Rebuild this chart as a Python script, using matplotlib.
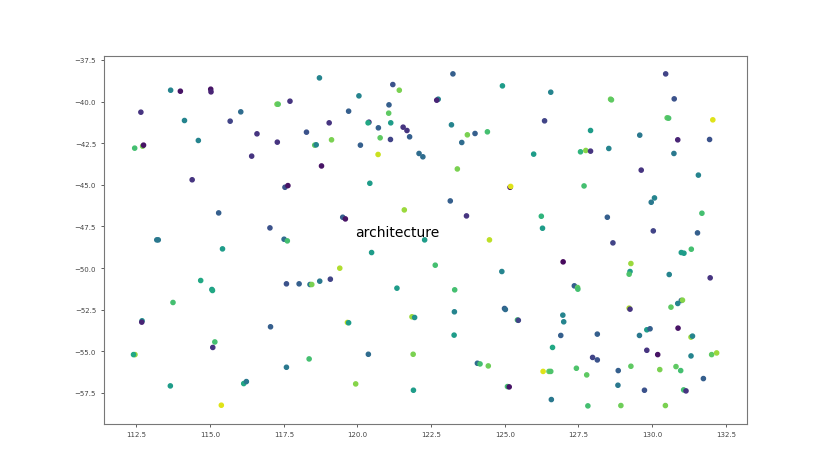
"""Scatter of points coloured with viridis, with a single text label."""
import matplotlib
matplotlib.use("Agg")
import matplotlib.pyplot as plt

# (x, y, colour value 0..1)
xs = [113.66, 113.99, 115.02, 115.03, 112.65, 114.13, 115.68, 116.04, 114.60, 116.59,
      117.28, 112.44, 112.71, 112.74, 116.41, 114.39, 117.27, 117.31, 117.71, 118.27,
      117.54, 117.64, 115.29, 117.03, 117.51, 117.62, 113.19, 113.24,
      115.42, 114.68, 115.06, 115.08, 113.74, 112.69, 112.68, 115.16, 115.09, 112.45,
      112.40, 113.65, 116.14, 116.23, 115.38, 117.05, 117.59, 118.02, 118.39, 118.45,
      117.59, 118.36,
      118.71, 121.20, 121.42, 123.24, 124.92, 120.05, 121.07, 122.74, 122.69, 119.70,
      121.06, 119.04, 120.39, 120.36, 121.13, 120.71, 121.55, 121.68, 121.77, 121.12,
      120.77, 119.12, 118.55, 118.60, 120.10, 123.19, 123.73, 123.99, 124.41, 123.54,
      125.98, 120.70, 122.09, 122.22, 118.78, 123.39, 120.42, 125.18, 125.20, 123.15,
      121.59, 123.70, 119.50, 119.59, 126.24, 126.28,
      122.28, 124.48, 120.48, 122.64, 119.40, 124.90, 119.08, 118.72, 121.34, 123.30,
      123.29, 124.99, 125.02, 125.43, 125.46, 121.85, 121.94, 119.66, 119.70, 123.28,
      120.37, 121.89, 124.07, 124.16, 124.44, 126.30, 126.50, 126.56, 119.94, 121.90,
      125.09, 125.15, 126.58,
      126.56, 130.46, 128.59, 128.62, 130.75, 126.35, 127.91, 130.51, 130.56, 132.06,
      129.58, 130.87, 131.95, 127.57, 127.75, 127.91, 128.53, 130.74, 129.63, 131.57,
      127.69, 130.08, 129.97, 131.69, 128.48, 130.04, 131.54,
      128.67, 126.98, 130.99, 131.08, 131.33, 129.28, 129.25, 129.22, 130.58, 131.97,
      127.36, 127.47, 127.48, 129.22, 129.25, 130.99, 131.03, 130.87, 130.64, 126.97,
      127.00, 126.90, 128.14, 129.57, 129.82, 129.93, 130.88, 131.32, 131.37, 126.62,
      129.82, 130.19, 131.32, 132.02, 132.19, 127.98, 128.14, 127.43, 127.78, 128.85,
      129.28, 130.26, 130.81, 130.97, 131.74, 128.84, 129.74, 131.07, 131.15, 127.82,
      128.94, 130.45]
ys = [-39.32, -39.38, -39.26, -39.42, -40.64, -41.14, -41.18, -40.62, -42.34, -41.94,
      -42.44, -42.80, -42.68, -42.62, -43.28, -44.70, -40.16, -40.16, -39.98, -41.84,
      -45.15, -45.05, -46.69, -47.59, -48.27, -48.37, -48.31, -48.31,
      -48.85, -50.75, -51.29, -51.35, -52.07, -53.17, -53.25, -54.44, -54.77, -55.20,
      -55.20, -57.08, -56.94, -56.82, -58.24, -53.53, -50.95, -50.95, -50.99, -50.99,
      -55.96, -55.46,
      -38.58, -38.98, -39.32, -38.34, -39.06, -39.66, -40.20, -39.86, -39.92, -40.58,
      -40.70, -41.28, -41.24, -41.28, -41.28, -41.58, -41.54, -41.74, -42.12, -42.28,
      -42.18, -42.30, -42.62, -42.60, -42.62, -41.40, -42.00, -41.92, -41.82, -42.46,
      -43.16, -43.18, -43.12, -43.32, -43.87, -44.05, -44.91, -45.15, -45.10, -45.97,
      -46.51, -46.87, -46.95, -47.05, -46.89, -47.61,
      -48.31, -48.31, -49.07, -49.83, -50.01, -50.21, -50.67, -50.79, -51.21, -51.31,
      -52.63, -52.43, -52.49, -53.12, -53.14, -52.93, -52.97, -53.27, -53.29, -54.03,
      -55.18, -55.18, -55.72, -55.76, -55.88, -56.21, -56.21, -56.21, -56.96, -57.34,
      -57.12, -57.14, -57.90,
      -39.44, -38.34, -39.86, -39.90, -39.84, -41.16, -41.74, -40.98, -41.00, -41.10,
      -42.02, -42.30, -42.28, -43.02, -42.94, -42.98, -42.82, -43.12, -44.12, -44.42,
      -45.07, -45.79, -46.05, -46.71, -46.95, -47.77, -47.89,
      -48.49, -49.63, -49.07, -49.11, -48.87, -49.73, -50.21, -50.37, -50.39, -50.59,
      -51.07, -51.17, -51.27, -52.41, -52.47, -51.95, -51.93, -52.13, -52.35, -52.83,
      -53.23, -54.05, -53.97, -54.05, -53.71, -53.65, -53.61, -54.15, -54.09, -54.77,
      -54.94, -55.20, -55.28, -55.20, -55.10, -55.37, -55.52, -56.02, -56.42, -56.16,
      -55.90, -56.10, -55.92, -56.16, -56.64, -57.04, -57.34, -57.32, -57.38, -58.28,
      -58.26, -58.26]
vals = [0.45, 0.05, 0.05, 0.10, 0.15, 0.45, 0.20, 0.35, 0.45, 0.15,
        0.15, 0.70, 0.80, 0.05, 0.15, 0.15, 0.80, 0.75, 0.15, 0.25,
        0.25, 0.05, 0.30, 0.25, 0.35, 0.70, 0.40, 0.40,
        0.55, 0.60, 0.55, 0.60, 0.70, 0.50, 0.10, 0.70, 0.15, 0.85,
        0.60, 0.55, 0.60, 0.40, 0.95, 0.30, 0.25, 0.30, 0.40, 0.80,
        0.40, 0.70,
        0.45, 0.25, 0.80, 0.30, 0.55, 0.45, 0.30, 0.45, 0.10, 0.30,
        0.75, 0.15, 0.15, 0.60, 0.55, 0.30, 0.15, 0.15, 0.30, 0.20,
        0.75, 0.80, 0.75, 0.45, 0.30, 0.45, 0.80, 0.30, 0.70, 0.35,
        0.55, 0.92, 0.35, 0.35, 0.05, 0.80, 0.55, 0.05, 0.95, 0.30,
        0.85, 0.15, 0.30, 0.05, 0.65, 0.55,
        0.55, 0.90, 0.55, 0.70, 0.88, 0.45, 0.20, 0.40, 0.55, 0.70,
        0.45, 0.30, 0.35, 0.70, 0.20, 0.85, 0.50, 0.90, 0.55, 0.55,
        0.35, 0.80, 0.35, 0.70, 0.78, 0.95, 0.75, 0.72, 0.82, 0.55,
        0.70, 0.05, 0.40,
        0.45, 0.20, 0.78, 0.75, 0.25, 0.20, 0.55, 0.75, 0.72, 0.95,
        0.40, 0.10, 0.25, 0.65, 0.82, 0.15, 0.45, 0.40, 0.15, 0.45,
        0.70, 0.45, 0.40, 0.70, 0.30, 0.20, 0.30,
        0.20, 0.02, 0.55, 0.55, 0.70, 0.85, 0.55, 0.72, 0.45, 0.15,
        0.30, 0.75, 0.70, 0.88, 0.15, 0.35, 0.82, 0.45, 0.75, 0.45,
        0.45, 0.30, 0.30, 0.40, 0.55, 0.30, 0.05, 0.85, 0.45, 0.60,
        0.15, 0.05, 0.45, 0.75, 0.85, 0.20, 0.25, 0.72, 0.75, 0.30,
        0.75, 0.80, 0.75, 0.70, 0.30, 0.40, 0.25, 0.70, 0.15, 0.70,
        0.78, 0.80]

LABEL = "architecture"
LABEL_POS = (119.92, -48.1)


def main():
    fig, ax = plt.subplots(figsize=(8.3, 4.77), dpi=100)
    ax.scatter(xs, ys, c=vals, cmap="viridis", vmin=0, vmax=1, s=9)
    ax.text(*LABEL_POS, LABEL, fontsize=10)

    ax.set_xlim(111.39, 133.22)
    ax.set_ylim(-59.34, -37.28)
    ax.set_xticks([112.5, 115.0, 117.5, 120.0, 122.5, 125.0, 127.5, 130.0, 132.5])
    ax.set_yticks([-37.5, -40.0, -42.5, -45.0, -47.5, -50.0, -52.5, -55.0, -57.5])
    ax.tick_params(labelsize=5, length=2, width=0.6, colors="#444444")
    for sp in ax.spines.values():
        sp.set_color("#777777")
        sp.set_linewidth(0.8)

    fig.savefig("out.png", dpi=100)


if __name__ == "__main__":
    main()
